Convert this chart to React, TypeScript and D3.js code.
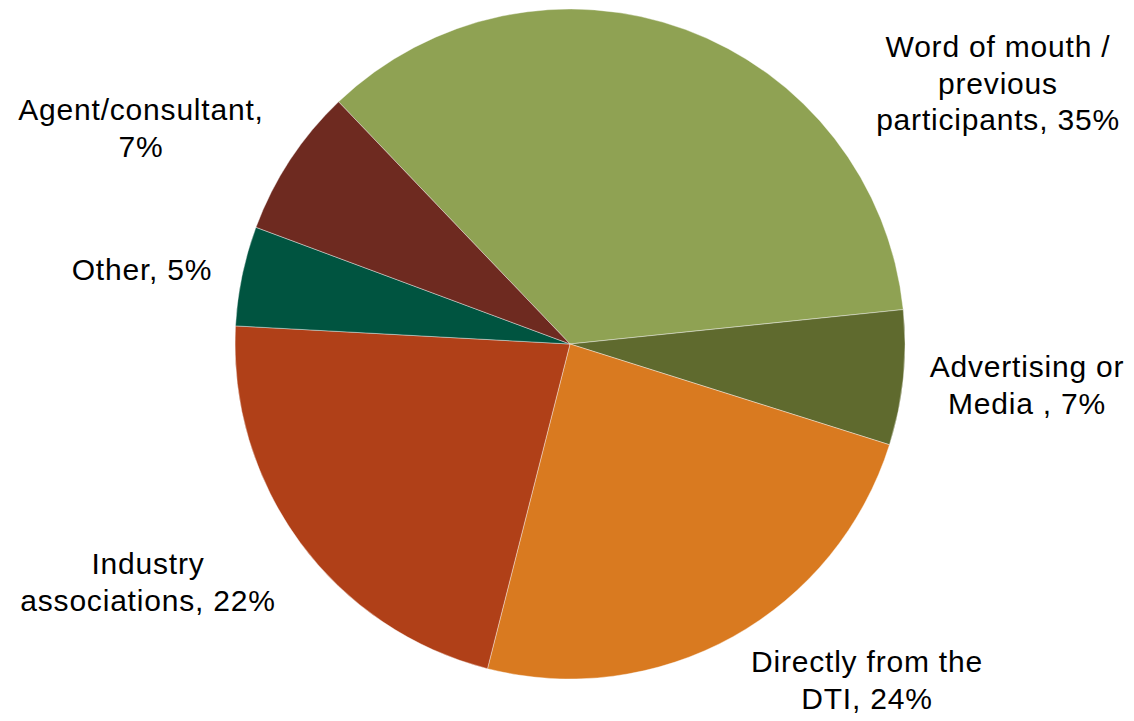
import React from "react";
import * as d3 from "d3";

const categories = [
  "Word of mouth / previous participants",
  "Advertising or Media",
  "Directly from the DTI",
  "Industry associations",
  "Other",
  "Agent/consultant",
];
const values = [35.5, 6.5, 24.1, 21.9, 4.8, 7.2];
const labelLines = [
  ["Word of mouth /", "previous", "participants, 35%"],
  ["Advertising or", "Media , 7%"],
  ["Directly from the", "DTI, 24%"],
  ["Industry", "associations, 22%"],
  ["Other, 5%"],
  ["Agent/consultant,", "7%"],
];
const colors = ["#8FA253", "#5F6A2E", "#D97A20", "#B04018", "#005440", "#6E2A20"];

// layout (label anchor = center x, first baseline y)
const labelAnchors: [number, number][] = [
  [998, 57],
  [1027, 377],
  [867, 672],
  [148, 574],
  [142, 280],
  [141, 120],
];

const W = 1134;
const H = 721;
const cx = 570;
const cy = 344;
const R = 335;
const startDeg = -43.7;
const fontSize = 30;
const lineH = 36.5;

export default function App() {
  const start = (startDeg * Math.PI) / 180;
  const pie = d3
    .pie<number>()
    .sort(null)
    .value((d) => d)
    .startAngle(start)
    .endAngle(start + 2 * Math.PI);
  const arcs = pie(values);
  const arc = d3.arc<d3.PieArcDatum<number>>().innerRadius(0).outerRadius(R);

  return (
    <svg
      width={W}
      height={H}
      style={{ position: "absolute", left: 0, top: 0, display: "block", background: "#fff" }}
      fontFamily="'Liberation Sans', Arial, sans-serif"
    >
      <g transform={`translate(${cx},${cy})`}>
        {arcs.map((a, i) => (
          <path key={categories[i]} d={arc(a) || ""} fill={colors[i]} stroke="#ffffff" strokeWidth={0.4} />
        ))}
      </g>
      {labelLines.map((lines, i) => (
        <text
          key={categories[i]}
          x={labelAnchors[i][0]}
          y={labelAnchors[i][1]}
          textAnchor="middle"
          fontSize={fontSize}
          letterSpacing={0.8}
          fill="#000"
        >
          {lines.map((l, j) => (
            <tspan key={j} x={labelAnchors[i][0]} dy={j === 0 ? 0 : lineH}>
              {l}
            </tspan>
          ))}
        </text>
      ))}
    </svg>
  );
}
